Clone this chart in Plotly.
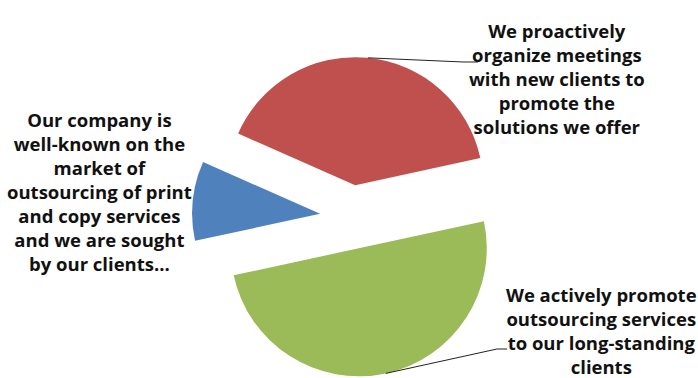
import math
import plotly.graph_objects as go

labels = [
    "Our company is<br>well-known on the<br>market of<br>outsourcing of print<br>and copy services<br>and we are sought<br>by our clients...",
    "We proactively<br>organize meetings<br>with new clients to<br>promote the<br>solutions we offer",
    "We actively promote<br>outsourcing services<br>to our long-standing<br>clients",
]
values = [10, 40, 50]
colors = ["#4F81BD", "#C0504D", "#9BBB59"]

W, H = 698, 378
CX, CY = 352, 217      # pie centre in pixels
R = 128                # slice radius in pixels
PULL = 0.25
ROT = 257.8            # start angle, degrees clockwise from 12 o'clock

box = 2 * R * (1 + PULL)
dom_x = [(CX - box / 2) / W, (CX + box / 2) / W]
dom_y = [1 - (CY + box / 2) / H, 1 - (CY - box / 2) / H]

fig = go.Figure(go.Pie(
    labels=labels, values=values, sort=False, direction="clockwise",
    rotation=ROT, pull=[PULL] * 3, textinfo="none", hoverinfo="skip",
    marker=dict(colors=colors, line=dict(width=0)),
    domain=dict(x=dom_x, y=dom_y), showlegend=False,
))

# mid-angle points of slices on the arc (for leader lines)
tot = sum(values)
mids = []
acc = 0
for v in values:
    a = math.radians(ROT + 360 * (acc + v / 2) / tot)
    dx, dy = math.sin(a), -math.cos(a)
    px = CX + dx * R * PULL + dx * R
    py = CY + dy * R * PULL + dy * R
    mids.append((px, py))
    acc += v

def P(x, y):
    return x / W, 1 - y / H

label_pos = [(99, 191), (557, 79), (601, 330)]
font = dict(family="Open Sans", size=18.5, color="#111111", weight="bold")
for lab, (lx, ly) in zip(labels, label_pos):
    x, y = P(lx, ly)
    fig.add_annotation(x=x, y=y, xref="paper", yref="paper", text=lab,
                       showarrow=False, font=font, align="center",
                       xanchor="center", yanchor="middle")

# leader lines
elbows = {1: [(463, 62), (478, 62)], 2: [(497, 349), (507, 349)]}
for i, pts in elbows.items():
    seq = [mids[i]] + pts
    path = "M " + " L ".join(f"{P(x, y)[0]:.4f},{P(x, y)[1]:.4f}" for x, y in seq)
    fig.add_shape(type="path", path=path, xref="paper", yref="paper",
                  line=dict(color="#222222", width=1))

fig.update_layout(width=W, height=H, margin=dict(l=0, r=0, t=0, b=0),
                  paper_bgcolor="white", plot_bgcolor="white")
fig.write_html("out.html", config={"displayModeBar": False},
               post_script="document.body.style.margin='0';")
